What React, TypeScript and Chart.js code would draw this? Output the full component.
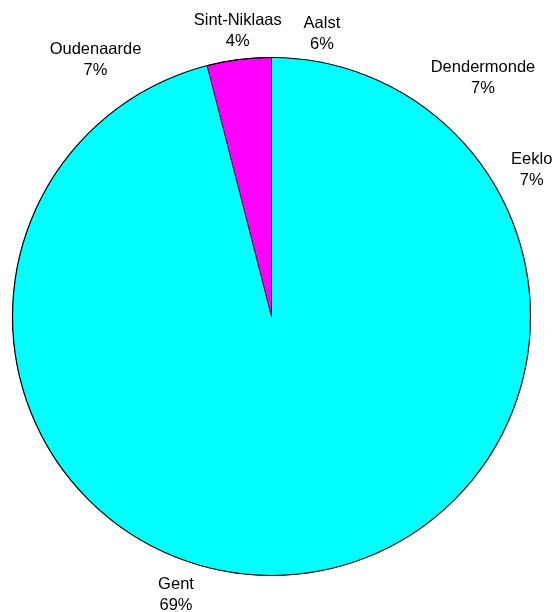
import React, { useEffect, useRef } from "react";
import { Chart, registerables } from "chart.js";

Chart.register(...registerables);

const categories = ["Aalst", "Dendermonde", "Eeklo", "Gent", "Oudenaarde", "Sint-Niklaas"];
const values = [6, 7, 7, 69, 7, 4];
const sliceColors = ["#00FFFF", "#00FFFF", "#00FFFF", "#00FFFF", "#00FFFF", "#FF00FF"];
const sliceBorders = ["#00FFFF", "#00FFFF", "#00FFFF", "#00FFFF", "#00FFFF", "#000000"];

const W = 552;
const H = 612;
const FONT = "16.5px 'Liberation Sans', Arial, sans-serif";

const labelPlugin = {
  id: "pieLabels",
  afterDatasetsDraw(chart: any) {
    const ctx = chart.ctx;
    const meta = chart.getDatasetMeta(0);
    const total = values.reduce((a, b) => a + b, 0);
    ctx.save();
    // outer outline
    const a0 = meta.data[0];
    ctx.beginPath();
    ctx.arc(a0.x, a0.y, a0.outerRadius, 0, Math.PI * 2);
    ctx.strokeStyle = "#000";
    ctx.lineWidth = 1.2;
    ctx.stroke();

    ctx.font = FONT;
    ctx.fillStyle = "#000";
    ctx.textAlign = "center";
    ctx.textBaseline = "alphabetic";
    meta.data.forEach((arc: any, i: number) => {
      const mid = (arc.startAngle + arc.endAngle) / 2;
      const cx = Math.cos(mid);
      const cy = Math.sin(mid);
      const R = arc.outerRadius + 10;
      const ax = arc.x + R * cx;
      const ay = arc.y + R * cy;
      const l1 = categories[i];
      const l2 = Math.round((values[i] / total) * 100) + "%";
      const w = Math.max(ctx.measureText(l1).width, ctx.measureText(l2).width);
      const h = 40;
      const t = Math.min(Math.max((Math.abs(cx) - 0.2) / 0.1, 0), 1);
      const px = ax + Math.sign(cx) * t * (w / 2 + 8);
      const py = ay + cy * (h / 2);
      ctx.fillText(l1, px, py - 5);
      ctx.fillText(l2, px, py + 16);
    });
    ctx.restore();
  },
};

export default function App() {
  const ref = useRef<HTMLCanvasElement>(null);
  useEffect(() => {
    if (!ref.current) return;
    const chart = new Chart(ref.current, {
      type: "pie",
      data: {
        labels: categories,
        datasets: [
          {
            data: values,
            backgroundColor: sliceColors,
            borderColor: sliceBorders,
            borderWidth: 1,
          },
        ],
      },
      options: {
        responsive: false,
        animation: false,
        layout: { padding: { left: 12, right: 21, top: 57, bottom: 36 } },
        plugins: {
          legend: { display: false },
          tooltip: { enabled: false },
        },
      },
      plugins: [labelPlugin],
    });
    return () => chart.destroy();
  }, []);
  return (
    <div style={{ position: "fixed", left: 0, top: 0, width: W, height: H, background: "#fff" }}>
      <canvas ref={ref} width={W} height={H} style={{ display: "block" }} />
    </div>
  );
}
